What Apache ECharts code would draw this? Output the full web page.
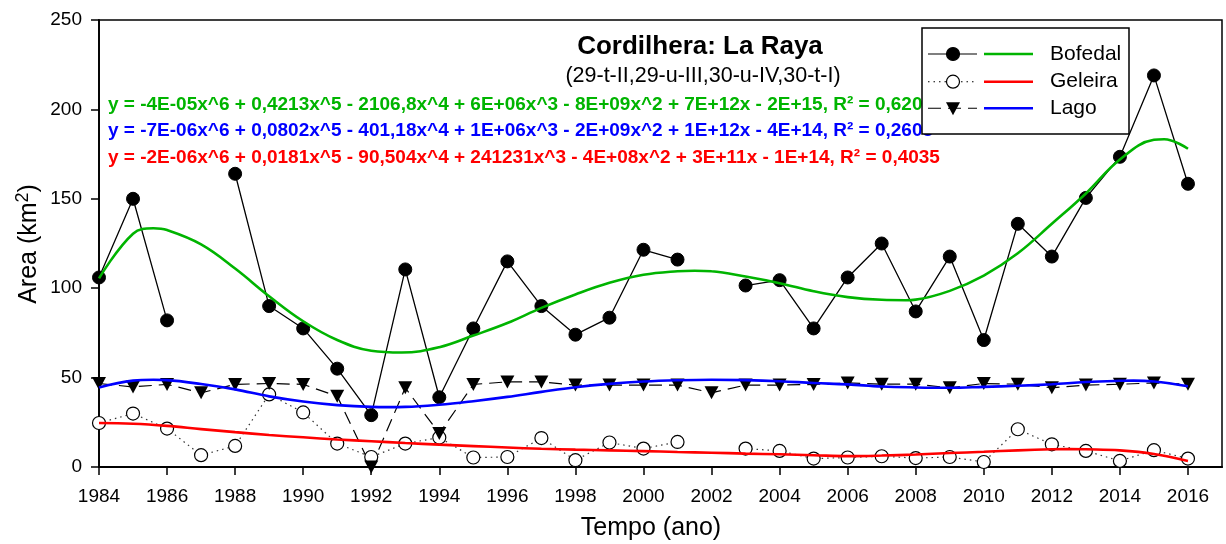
<!DOCTYPE html>
<html>
<head>
<meta charset="utf-8">
<script src="https://cdn.jsdelivr.net/npm/echarts@6/dist/echarts.min.js"></script>
<style>
  html, body { margin: 0; padding: 0; background: #fff; }
  #chart { width: 1226px; height: 544px; }
</style>
</head>
<body>
<div id="chart"></div>
<script>
// Survey years and tick labels
const years = [1984, 1985, 1986, 1987, 1988, 1989, 1990, 1991, 1992, 1993, 1994,
  1995, 1996, 1997, 1998, 1999, 2000, 2001, 2002, 2003, 2004, 2005, 2006, 2007,
  2008, 2009, 2010, 2011, 2012, 2013, 2014, 2015, 2016];
const xTicks = [1984, 1986, 1988, 1990, 1992, 1994, 1996, 1998, 2000, 2002, 2004,
  2006, 2008, 2010, 2012, 2014, 2016];

// Measured areas (km²); null = no scene that year
const bofedal = [106, 150, 82, null, 164, 90, 77.5, 55, 29, 110.5, 39, 77.5, 115, 90,
  74, 83.5, 121.5, 116, null, 101.5, 104.5, 77.5, 106, 125, 87, 117.7, 71, 136,
  117.7, 150.5, 173.5, 219, 158.4];
const geleira = [24.6, 29.9, 21.5, 6.6, 11.8, 40.6, 30.5, 13.1, 5.6, 13.1, 16.5, 5.3,
  5.6, 16.2, 3.8, 13.7, 10.3, 14, null, 10.3, 9, 4.7, 5.3, 6, 5, 5.6, 2.8, 21.1,
  12.7, 9, 3.4, 9.4, 4.7];
const lago = [46.7, 44.8, 46.2, 41.5, 46.2, 46.7, 46.2, 39.6, 0, 44.3, 18.7, 46.2,
  47.6, 47.6, 45.8, 45.8, 45.8, 45.8, 41.5, 45.8, 45.8, 46.2, 47, 46.3, 46.3, 44.3,
  46.7, 46.3, 44.3, 45.8, 46.3, 47, 46.3];

// 6th-order trend curves (extra samples at turning points)
const trendBofedalX = [1984, 1985, 1985.6, 1986, 1987, 1988, 1989, 1990, 1991, 1992,
  1992.9, 1994, 1995, 1996, 1997, 1998, 1999, 2000, 2001, 2001.5, 2002, 2003, 2004,
  2005, 2006, 2007, 2007.7, 2008, 2009, 2010, 2011, 2012, 2013, 2014, 2015, 2015.3, 2016];
const trendBofedal = [105.5, 130.5, 133.5, 132.5, 124.5, 111, 95.5, 81.5, 71, 65,
  64, 67, 73.5, 80.5, 89, 96.5, 103, 107.5, 109.5, 109.8, 109.5, 106.5, 102.8,
  98.3, 95, 93.5, 93.3, 93.6, 98.5, 107, 119.5, 136, 153, 172, 183, 183.3, 178];

const trendLagoX = [1984, 1985, 1985.6, 1986, 1987, 1988, 1989, 1990, 1991, 1992,
  1992.5, 1993, 1994, 1995, 1996, 1997, 1998, 1999, 2000, 2001, 2002, 2003, 2004,
  2005, 2006, 2007, 2008, 2009, 2010, 2011, 2012, 2013, 2014, 2014.4, 2015, 2016];
const trendLago = [44.5, 48.3, 48.8, 48.6, 46.4, 43.4, 39.5, 36.6, 34.6, 33.6,
  33.5, 33.6, 34.8, 36.8, 39.2, 42, 44.6, 46.5, 47.8, 48.5, 48.8, 48.6, 48, 47,
  46.2, 45, 44.5, 44.3, 44.8, 45.4, 46.3, 47.5, 48.2, 48.3, 47.8, 45.2];

const trendGeleiraX = [1984, 1985, 1986, 1987, 1988, 1989, 1990, 1991, 1992, 1993,
  1994, 1995, 1996, 1997, 1998, 1999, 2000, 2001, 2002, 2003, 2004, 2005, 2006,
  2007, 2008, 2009, 2010, 2011, 2012, 2012.5, 2013, 2014, 2015, 2016];
const trendGeleira = [24.6, 24.2, 23, 21.2, 19.5, 17.9, 16.6, 15.4, 14.4, 13.4,
  12.5, 11.7, 10.9, 10.2, 9.7, 9.3, 8.9, 8.4, 8, 7.5, 7.1, 6.6, 6.1, 6.4, 7, 7.8,
  8.5, 9.3, 9.9, 10, 9.9, 9.3, 7.3, 3.4];

const seriesNames = ['Bofedal', 'Geleira', 'Lago'];
const equations = [
  'y = -4E-05x^6 + 0,4213x^5 - 2106,8x^4 + 6E+06x^3 - 8E+09x^2 + 7E+12x - 2E+15, R² = 0,6207',
  'y = -7E-06x^6 + 0,0802x^5 - 401,18x^4 + 1E+06x^3 - 2E+09x^2 + 1E+12x - 4E+14, R² = 0,2603',
  'y = -2E-06x^6 + 0,0181x^5 - 90,504x^4 + 241231x^3 - 4E+08x^2 + 3E+11x - 1E+14, R² = 0,4035'
];
const titleText = 'Cordilhera: La Raya';
const subtitleText = '(29-t-II,29-u-III,30-u-IV,30-t-I)';

const GREEN = '#00b400', RED = '#ff0000', BLUE = '#0000ff';
const FONT = '"Liberation Sans", Arial, sans-serif';

const pair = (xs, ys) => xs.map((x, i) => [x, ys[i]]);

const chart = echarts.init(document.getElementById('chart'), null, { renderer: 'canvas' });

const legendRows = [
  { y: 54, name: seriesNames[0], color: GREEN, dash: null, symbol: 'fill' },
  { y: 81.7, name: seriesNames[1], color: RED, dash: [1.5, 4], symbol: 'open' },
  { y: 108.3, name: seriesNames[2], color: BLUE, dash: [13, 7], symbol: 'tri' }
];

const legendElements = [{
  type: 'rect', z: 100,
  shape: { x: 922, y: 28, width: 207, height: 106 },
  style: { fill: '#fff', stroke: '#000', lineWidth: 1.5 }
}];
legendRows.forEach(r => {
  legendElements.push({
    type: 'line', z: 101,
    shape: { x1: 928, y1: r.y, x2: 977, y2: r.y },
    style: { stroke: '#000', lineWidth: 1.1, lineDash: r.dash }
  });
  if (r.symbol === 'tri') {
    legendElements.push({
      type: 'polygon', z: 102,
      shape: { points: [[946, r.y - 6], [960, r.y - 6], [953, r.y + 7]] },
      style: { fill: '#000' }
    });
  } else {
    legendElements.push({
      type: 'circle', z: 102,
      shape: { cx: 953, cy: r.y, r: 6.5 },
      style: { fill: r.symbol === 'fill' ? '#000' : '#fff', stroke: '#000', lineWidth: 1.2 }
    });
  }
  legendElements.push({
    type: 'line', z: 101,
    shape: { x1: 984, y1: r.y, x2: 1033, y2: r.y },
    style: { stroke: r.color, lineWidth: 2.5 }
  });
  legendElements.push({
    type: 'text', z: 101, x: 1050, y: r.y,
    style: { text: r.name, font: '21px ' + FONT, fill: '#000', verticalAlign: 'middle' }
  });
});

const eqColors = [GREEN, BLUE, RED];
const eqY = [104.5, 131, 157.5];
const equationElements = equations.map((t, i) => ({
  type: 'text', z: 1, x: 108, y: eqY[i],
  style: { text: t, font: 'bold 19px ' + FONT, fill: eqColors[i], verticalAlign: 'middle' }
}));

const textElements = [
  { type: 'text', z: 1, x: 700, y: 46.5,
    style: { text: titleText, font: 'bold 26px ' + FONT, fill: '#000', align: 'center', verticalAlign: 'middle' } },
  { type: 'text', z: 1, x: 703, y: 76,
    style: { text: subtitleText, font: '21.5px ' + FONT, fill: '#000', align: 'center', verticalAlign: 'middle' } },
  { type: 'text', z: 1, x: 651, y: 528,
    style: { text: 'Tempo (ano)', font: '25px ' + FONT, fill: '#000', align: 'center', verticalAlign: 'middle' } },
  { type: 'text', z: 1, x: 29, y: 244, rotation: Math.PI / 2,
    style: {
      text: 'Area (km{sup|2})', font: '25px ' + FONT, fill: '#000', align: 'center', verticalAlign: 'middle',
      rich: { sup: { fontSize: 18, verticalAlign: 'top', padding: [0, 0, 12, 0], fontFamily: FONT } }
    } }
];

const dataSeries = [
  {
    name: seriesNames[0], type: 'line', data: pair(years, bofedal), connectNulls: false,
    symbol: 'circle', symbolSize: 13, z: 3,
    lineStyle: { color: '#000', width: 1.3 },
    itemStyle: { color: '#000', borderColor: '#000', borderWidth: 1 }
  },
  {
    name: seriesNames[1], type: 'line', data: pair(years, geleira), connectNulls: false,
    symbol: 'circle', symbolSize: 13, z: 3,
    lineStyle: { color: '#333', width: 1.2, type: [1.5, 4] },
    itemStyle: { color: '#fff', borderColor: '#000', borderWidth: 1.2 }
  },
  {
    name: seriesNames[2], type: 'line', data: pair(years, lago), connectNulls: false,
    symbol: 'triangle', symbolRotate: 180, symbolSize: [14, 13], z: 3,
    lineStyle: { color: '#000', width: 1.2, type: [13, 7] },
    itemStyle: { color: '#000' }
  }
];

const trendSeries = [
  { name: 'trend-' + seriesNames[0], data: pair(trendBofedalX, trendBofedal), color: GREEN },
  { name: 'trend-' + seriesNames[2], data: pair(trendLagoX, trendLago), color: BLUE },
  { name: 'trend-' + seriesNames[1], data: pair(trendGeleiraX, trendGeleira), color: RED }
].map(s => ({
  name: s.name, type: 'line', data: s.data, smooth: 0.4, showSymbol: false, symbol: 'none',
  z: 4, silent: true,
  lineStyle: { color: s.color, width: 2.6 }
}));

chart.setOption({
  animation: false,
  backgroundColor: '#fff',
  textStyle: { fontFamily: FONT },
  grid: { left: 99, right: 4, top: 20, bottom: 77, show: true, borderColor: '#000', borderWidth: 1.5 },
  xAxis: {
    type: 'value', min: 1984, max: 2017,
    axisLine: { onZero: false, lineStyle: { color: '#000', width: 2.2 } },
    axisTick: { show: true, inside: false, length: 8, customValues: xTicks, lineStyle: { color: '#000', width: 1.5 } },
    axisLabel: { customValues: xTicks, formatter: v => String(v), color: '#000', fontSize: 19, margin: 20, fontFamily: FONT },
    splitLine: { show: false }
  },
  yAxis: {
    type: 'value', min: 0, max: 250, interval: 50,
    axisLine: { show: true, lineStyle: { color: '#000', width: 1.8 } },
    axisTick: { show: true, inside: false, length: 8, lineStyle: { color: '#000', width: 1.5 } },
    axisLabel: { color: '#000', fontSize: 19, margin: 17, fontFamily: FONT },
    splitLine: { show: false }
  },
  graphic: { elements: [...equationElements, ...textElements, ...legendElements] },
  series: [...dataSeries, ...trendSeries]
});
</script>
</body>
</html>
